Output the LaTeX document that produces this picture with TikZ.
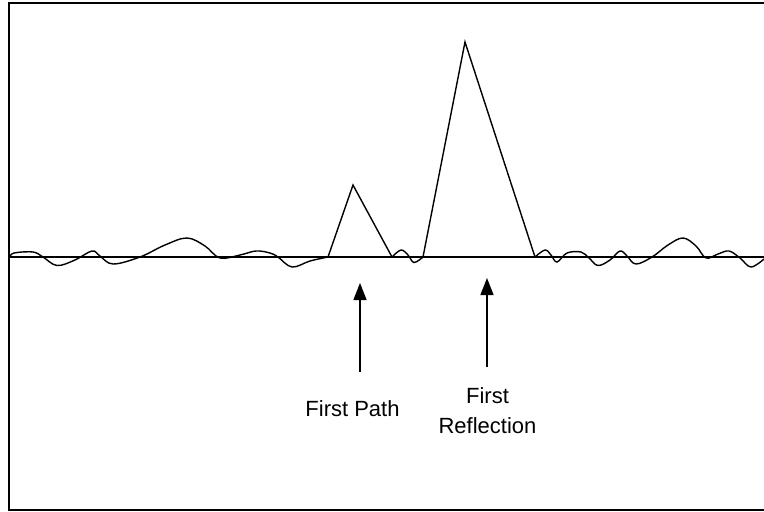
\documentclass[tikz,border=0pt]{standalone}
\usepackage{fontspec}
\setmainfont{Liberation Sans}
\usetikzlibrary{arrows.meta}
\begin{document}
\begin{tikzpicture}[x=1pt,y=-1pt,
  ln/.style={line width=1.4pt, line join=miter},
  pointer/.style={line width=1.4pt, -{Triangle[length=17pt,width=13pt]}},
  lbl/.style={font=\fontsize{22}{30}\selectfont, inner sep=0pt, align=center}]
\useasboundingbox (0,0) rectangle (764,512);
% frame
\draw[ln] (9,3) rectangle (770,510);
% baseline
\draw[ln] (9,257) -- (764,257);
% left noise
\draw[ln] plot[smooth, tension=0.6] coordinates {(10,257) (14,253) (33,252) (43,257) (57,265.5) (75,260) (92,251) (100,256) (113,264) (140,257) (165,245) (187,238) (205,246) (220,258) (240,255) (256,251) (270,253) (278,257) (292,267) (310,261) (328,257)};
% first path peak
\draw[ln] (328,257) -- (353,185) -- (392,257);
% small wiggle
\draw[ln] plot[smooth, tension=0.6] coordinates {(392,257) (401,250) (408,255) (414,262.5) (423,257)};
% first reflection peak
\draw[ln] (423,257) -- (465,42) -- (535,257);
% right noise
\draw[ln] plot[smooth, tension=0.6] coordinates {(535,257) (545,250) (551,255) (557,262) (567,253) (581,252) (589,258) (598,265.5) (610,260) (620,251) (627,256) (636,264) (652,257) (668,245) (683,238) (696,246) (706,258) (718,254) (729,251) (740,258) (751,267) (764,259)};
% arrows
\coordinate (fpTail) at (360,372);
\coordinate (fpTip) at (360,283);
\coordinate (frTail) at (487,367);
\coordinate (frTip) at (487,278);
\draw[pointer] (fpTail) -- (fpTip);
\draw[pointer] (frTail) -- (frTip);
% labels
\node[lbl, anchor=base] (fp) at (352.5,416.7) {First Path};
\node[lbl, anchor=base] (fr) at (487.5,433) {First\\Reflection};
\end{tikzpicture}
\end{document}
